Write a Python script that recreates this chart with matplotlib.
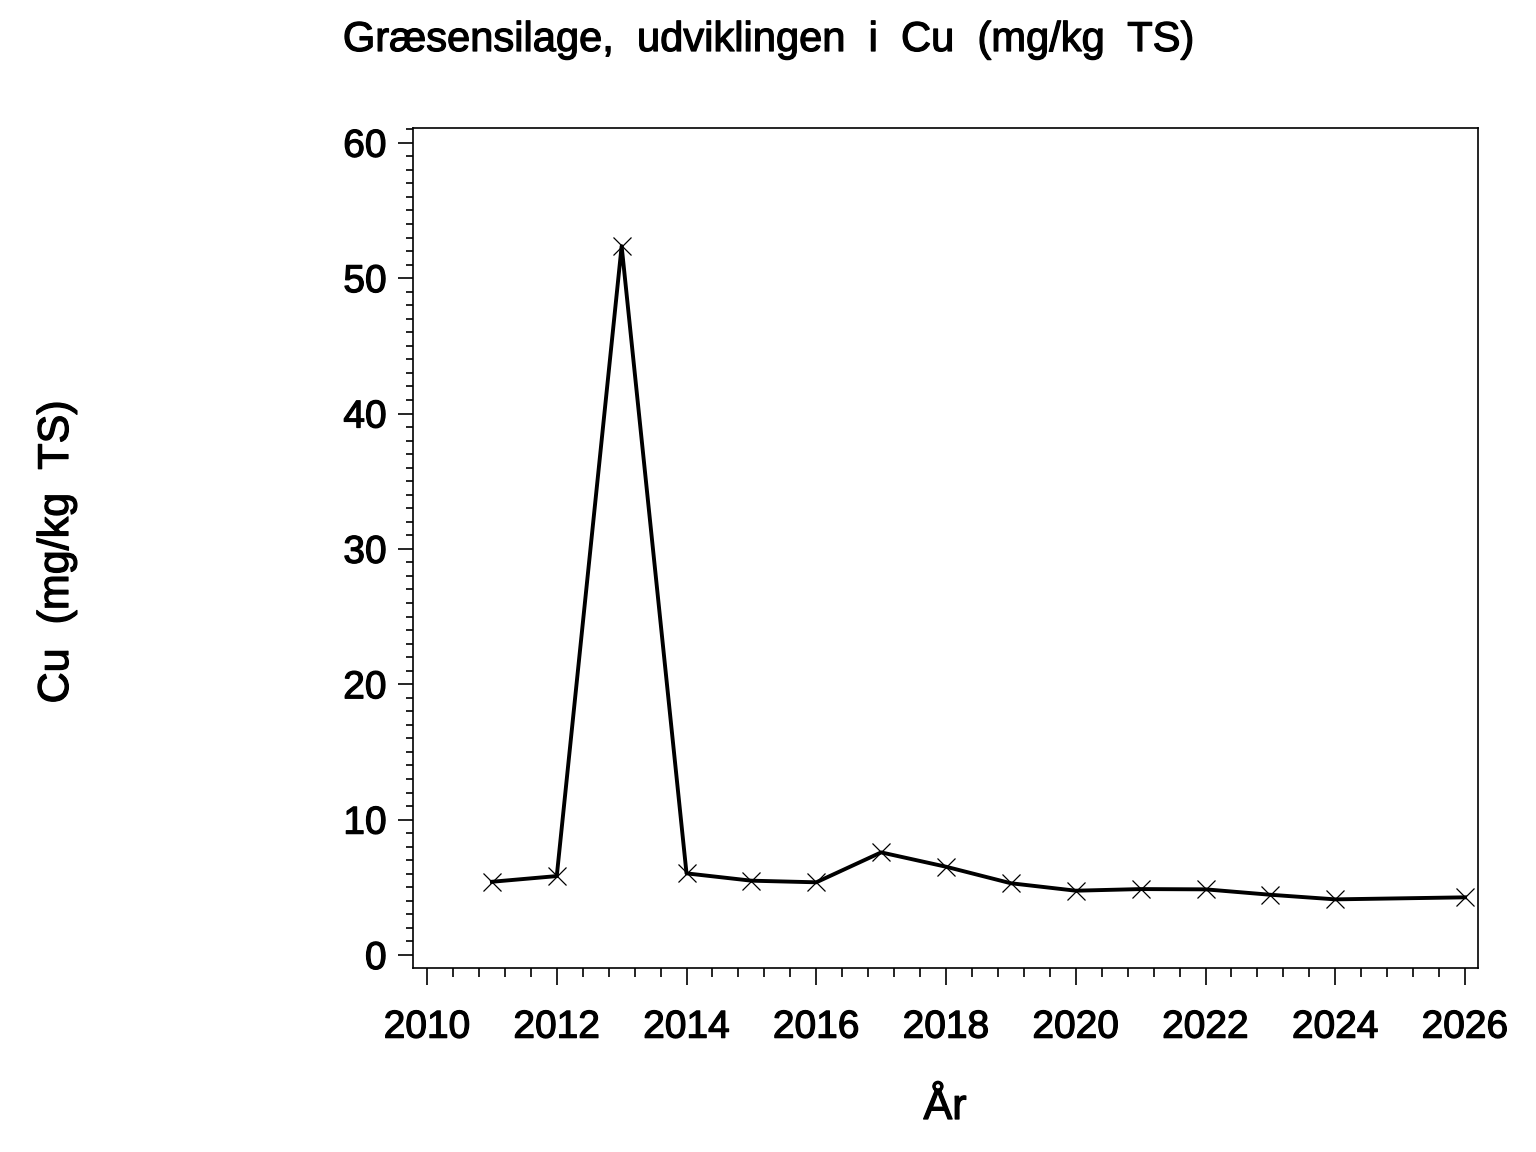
import matplotlib
matplotlib.use("Agg")
import matplotlib.pyplot as plt
import matplotlib.patheffects as pe
from matplotlib.ticker import MultipleLocator

plt.rcParams['font.family'] = ['Liberation Sans', 'DejaVu Sans']

years = [2011, 2012, 2013, 2014, 2015, 2016, 2017, 2018, 2019, 2020, 2021, 2022, 2023, 2024, 2026]
cu = [5.41, 5.83, 52.36, 6.03, 5.49, 5.37, 7.58, 6.52, 5.30, 4.75, 4.87, 4.85, 4.45, 4.11, 4.26]

# slightly heavier text, like the SAS output
heavy = [pe.withStroke(linewidth=0.9, foreground='black')]

fig = plt.figure(figsize=(15.36, 11.52), dpi=100)
ax = fig.add_axes([413 / 1536, 1 - 968 / 1152, 1065 / 1536, 840 / 1152])

ax.plot(years, cu, color='black', linewidth=2.8, marker='x', markersize=13,
        markeredgewidth=0.9, markeredgecolor='black')

ax.set_xlim(2009.784, 2026.2)
ax.set_ylim(-0.96, 61.09)

ax.xaxis.set_major_locator(MultipleLocator(2))
ax.xaxis.set_minor_locator(MultipleLocator(0.4))
ax.yaxis.set_major_locator(MultipleLocator(10))
ax.yaxis.set_minor_locator(MultipleLocator(1))

ax.tick_params(axis='both', which='both', direction='out', width=1.2, labelsize=28)
ax.tick_params(axis='x', which='major', length=12, pad=18)
ax.tick_params(axis='x', which='minor', length=6.5)
ax.tick_params(axis='y', which='major', length=11, pad=8)
ax.tick_params(axis='y', which='minor', length=5)
ax.tick_params(top=False, right=False, which='both')
for lab in ax.get_xticklabels() + ax.get_yticklabels():
    lab.set_path_effects(heavy)

for sp in ax.spines.values():
    sp.set_linewidth(1.2)

fig.text(0.5, 1 - 40 / 1152, "Græsensilage,  udviklingen  i  Cu  (mg/kg  TS)",
         ha='center', va='center', fontsize=30, path_effects=heavy)
fig.text(57 / 1536, 1 - 552 / 1152, "Cu  (mg/kg  TS)", rotation=90,
         ha='center', va='center', fontsize=31, path_effects=heavy)
fig.text(945 / 1536, 1 - 1108 / 1152, "År", ha='center', va='center', fontsize=31,
         path_effects=heavy)

fig.savefig("out.png", dpi=100)
